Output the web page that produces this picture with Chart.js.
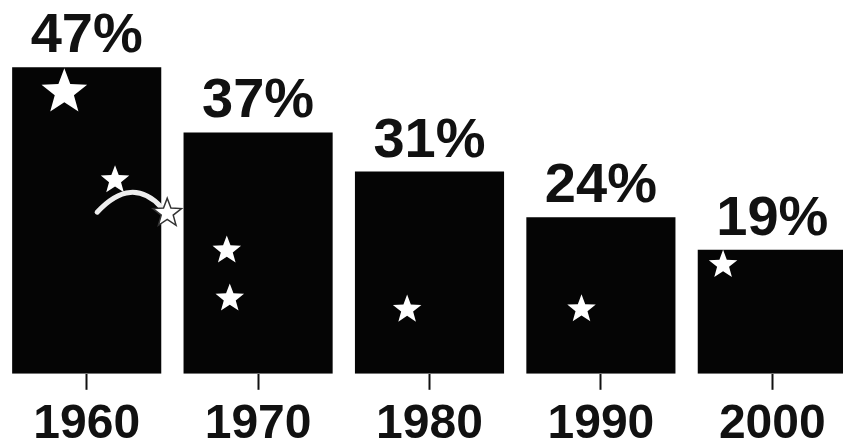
<!DOCTYPE html>
<html>
<head>
<meta charset="utf-8">
<script src="https://cdn.jsdelivr.net/npm/chart.js@4"></script>
<style>
  html, body { margin: 0; padding: 0; background: #fff; overflow: hidden; }
  #wrap { width: 858px; height: 447px; }
</style>
</head>
<body>
<div id="wrap"><canvas id="chart" width="858" height="447"></canvas></div>
<script>
// Share by decade - bar chart with white star decoration

const years = ['1960', '1970', '1980', '1990', '2000'];
const shares = [47, 37, 31, 24, 19];

// decorative stars: [bar index, dx (fraction of bar width from centre), dy (px from bar top), radius, outlined]
const stars = [
  [0, -0.15, 25, 24, false],
  [0, 0.19, 113, 15, false],
  [0, 0.54, 146, 15, true],
  [1, -0.21, 118, 15, false],
  [1, -0.19, 166, 15, false],
  [2, -0.15, 138, 15, false],
  [3, -0.13, 92, 15, false],
  [4, -0.33, 15, 15, false]
];

const FONT = '"Liberation Sans", Arial, Helvetica, sans-serif';

function drawStar(ctx, cx, cy, r, outlined) {
  ctx.beginPath();
  for (let i = 0; i < 10; i++) {
    const rad = i % 2 === 0 ? r : r * 0.42;
    const a = -Math.PI / 2 + i * Math.PI / 5;
    const x = cx + rad * Math.cos(a);
    const y = cy + rad * Math.sin(a);
    if (i === 0) ctx.moveTo(x, y); else ctx.lineTo(x, y);
  }
  ctx.closePath();
  ctx.fill();
  if (outlined) {
    ctx.strokeStyle = '#333';
    ctx.lineWidth = 1.5;
    ctx.stroke();
  }
}

const decorations = {
  id: 'decorations',
  afterDatasetsDraw(chart) {
    const { ctx } = chart;
    const bars = chart.getDatasetMeta(0).data;
    ctx.save();
    ctx.fillStyle = '#fff';
    // shooting star trail on the first bar
    const b0 = bars[0];
    ctx.strokeStyle = '#eee';
    ctx.lineWidth = 5;
    ctx.lineCap = 'round';
    ctx.beginPath();
    ctx.moveTo(b0.x + 0.07 * b0.width, b0.y + 145);
    ctx.quadraticCurveTo(b0.x + 0.3 * b0.width, b0.y + 108, b0.x + 0.5 * b0.width, b0.y + 140);
    ctx.stroke();
    stars.forEach(([i, dx, dy, r, outlined]) => {
      const b = bars[i];
      drawStar(ctx, b.x + dx * b.width, b.y + dy, r, outlined);
    });
    ctx.restore();

    // value labels above bars
    ctx.save();
    ctx.fillStyle = '#111';
    ctx.font = 'bold 56px ' + FONT;
    ctx.textAlign = 'center';
    ctx.textBaseline = 'alphabetic';
    bars.forEach((b, i) => {
      ctx.fillText(shares[i] + '%', b.x, b.y - 15);
    });
    ctx.restore();
  }
};

new Chart(document.getElementById('chart'), {
  type: 'bar',
  data: {
    labels: years,
    datasets: [{
      data: shares,
      backgroundColor: '#050505',
      borderWidth: 0,
      barPercentage: 0.87,
      categoryPercentage: 1
    }]
  },
  options: {
    responsive: false,
    animation: false,
    layout: { padding: { left: 1, right: 0, top: 0, bottom: -12 } },
    plugins: { legend: { display: false }, tooltip: { enabled: false } },
    scales: {
      x: {
        border: { display: false },
        grid: {
          offset: false,
          drawOnChartArea: false,
          drawTicks: true,
          tickLength: 16,
          tickWidth: 2,
          tickColor: '#111'
        },
        ticks: {
          color: '#111',
          padding: 7,
          font: { family: FONT, size: 48, weight: 'bold', lineHeight: 1.15 }
        }
      },
      y: {
        display: false,
        min: 0,
        max: 57.3
      }
    }
  },
  plugins: [decorations]
});
</script>
</body>
</html>
